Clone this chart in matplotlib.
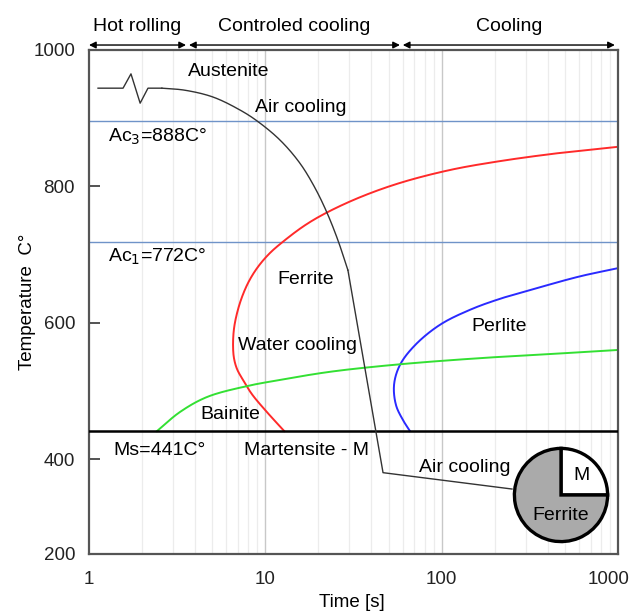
import matplotlib
matplotlib.use("Agg")
import matplotlib.pyplot as plt
import matplotlib.transforms as mtransforms
import numpy as np

plt.rcParams['font.family'] = ['Liberation Sans', 'DejaVu Sans']

# ---- data (schematic CCT diagram) ----
ac3 = 896          # drawn position of Ac3 line
ac1 = 719          # drawn position of Ac1 line
ms = 441

red_t = [1000, 469, 214, 111.5, 58.0, 34.4, 22.1, 16.8, 12.9, 10.6, 9.09, 8.08,
         7.38, 6.91, 6.64, 6.56, 6.64, 6.91, 7.47, 8.40, 10.2, 12.8]
red_T = [858, 849, 837, 824, 805, 784, 761, 743, 721, 702, 682, 661,
         638, 614, 591, 567, 548, 532, 516, 495, 469, 441]

blue_t = [1000, 609, 361, 214, 145, 97.9, 70.6, 58.0, 53.7, 55.1, 60.4, 66.1]
blue_T = [680, 668, 652, 635, 619, 597, 567, 538, 509, 479, 457, 441]

green_t = [2.43, 3.28, 4.67, 7.87, 12.1, 23.3, 58, 165, 412, 1000]
green_T = [441, 469, 491, 507, 516, 528, 539, 548, 554, 560]

# cooling path: start + notch, smooth cooling curve, then straight segments
notch_t = [1.125, 1.56, 1.73, 1.95, 2.16, 2.59]
notch_T = [944, 944, 965, 922, 944, 944]
cool_t = [2.59, 3.50, 5.05, 7.18, 8.97, 12.1, 15.7, 19.1, 22.4, 25.8, 29.4]
cool_T = [944, 941, 931, 912, 896, 868, 834, 798, 761, 721, 677]
tail_t = [29.4, 46.5, 250.5]
tail_T = [677, 380, 356]

pie_vals = [25, 75]
pie_labels = ['M', 'Ferrite']

xticks = [1, 10, 100, 1000]
xtick_labels = ['1', '10', '100', '1000']
ybottom = 260.7
yticks = [1000, 800, 600, 400, ybottom]
ytick_labels = ['1000', '800', '600', '400', '200']

phases = [("Hot rolling", 1, 3.55), ("Controled cooling", 3.69, 58), ("Cooling", 60.2, 960)]

PXDEC = 176.33   # pixels per decade
PXDEG = 0.6817   # pixels per degree


def smooth(ts, Ts, n=25):
    """Centripetal Catmull-Rom through the read points, in display-like space."""
    P = np.column_stack([np.log10(ts) * PXDEC, np.asarray(Ts, float) * PXDEG])
    P = np.vstack([2 * P[0] - P[1], P, 2 * P[-1] - P[-2]])
    out = []
    for i in range(1, len(P) - 2):
        p0, p1, p2, p3 = P[i - 1], P[i], P[i + 1], P[i + 2]
        t0 = 0.0
        t1 = t0 + max(np.linalg.norm(p1 - p0), 1e-6) ** 0.5
        t2 = t1 + max(np.linalg.norm(p2 - p1), 1e-6) ** 0.5
        t3 = t2 + max(np.linalg.norm(p3 - p2), 1e-6) ** 0.5
        t = np.linspace(t1, t2, n)[:, None]
        a1 = (t1 - t) / (t1 - t0) * p0 + (t - t0) / (t1 - t0) * p1
        a2 = (t2 - t) / (t2 - t1) * p1 + (t - t1) / (t2 - t1) * p2
        a3 = (t3 - t) / (t3 - t2) * p2 + (t - t2) / (t3 - t2) * p3
        b1 = (t2 - t) / (t2 - t0) * a1 + (t - t0) / (t2 - t0) * a2
        b2 = (t3 - t) / (t3 - t1) * a2 + (t - t1) / (t3 - t1) * a3
        c = (t2 - t) / (t2 - t1) * b1 + (t - t1) / (t2 - t1) * b2
        out.append(c if i == 1 else c[1:])
    C = np.vstack(out)
    return 10 ** (C[:, 0] / PXDEC), C[:, 1] / PXDEG


# ---- figure ----
fig = plt.figure(figsize=(6.35, 6.14), dpi=100)
ax = fig.add_axes([89/635, 60/614, 529/635, 504/614])
ax.set_xscale('log')
ax.set_xlim(1, 1000)
ax.set_ylim(ybottom, 1000)

# grid
for dec in [1, 10, 100]:
    for m in range(2, 10):
        ax.axvline(dec*m, color='#ececec', lw=0.9, zorder=0)
for v in [10, 100]:
    ax.axvline(v, color='#c8c8c8', lw=1.0, zorder=0)

ax.axhline(ac3, color='#6f93c8', lw=1.0, zorder=1)
ax.axhline(ac1, color='#6f93c8', lw=1.0, zorder=1)
ax.axhline(ms, color='black', lw=1.8, zorder=3)

ax.plot(*smooth(red_t, red_T), color='#ff2a2a', lw=1.4, zorder=2)
ax.plot(*smooth(blue_t, blue_T), color='#2a2aff', lw=1.4, zorder=2)
ax.plot(*smooth(green_t, green_T), color='#33e033', lw=1.4, zorder=2)
ax.plot(notch_t, notch_T, color='#333333', lw=1.0, zorder=4)
ax.plot(*smooth(cool_t, cool_T), color='#333333', lw=1.0, zorder=4)
ax.plot(tail_t, tail_T, color='#333333', lw=1.0, zorder=4)

fs = 14
ax.text(6.22, 968, 'Austenite', fontsize=fs, ha='center', va='center')
ax.text(15.9, 915, 'Air cooling', fontsize=fs, ha='center', va='center')
ax.text(1.28, 872, 'Ac$_3$=888C°', fontsize=fs, ha='left', va='center')
ax.text(1.28, 696, 'Ac$_1$=772C°', fontsize=fs, ha='left', va='center')
ax.text(17.0, 663, 'Ferrite', fontsize=fs, ha='center', va='center')
ax.text(211, 595, 'Perlite', fontsize=fs, ha='center', va='center')
ax.text(15.3, 567, 'Water cooling', fontsize=fs, ha='center', va='center')
ax.text(6.3, 466, 'Bainite', fontsize=fs, ha='center', va='center')
ax.text(1.37, 412, 'Ms=441C°', fontsize=fs, ha='left', va='center')
ax.text(17.2, 412, 'Martensite - M', fontsize=fs, ha='center', va='center')
ax.text(135.6, 387, 'Air cooling', fontsize=fs, ha='center', va='center')

# phase arrows on top
for name, a, b in phases:
    ax.annotate('', xy=(b, 1007.3), xytext=(a, 1007.3), annotation_clip=False,
                arrowprops=dict(arrowstyle='<|-|>', color='black', lw=1.0,
                                shrinkA=0, shrinkB=0, mutation_scale=10))
    ax.text(np.sqrt(a*b), 1035, name, fontsize=fs, ha='center', va='center')

ax.set_xticks(xticks)
ax.set_xticklabels(xtick_labels)
ax.xaxis.set_minor_locator(matplotlib.ticker.NullLocator())
ax.set_yticks(yticks)
ax.set_yticklabels(ytick_labels)
ax.tick_params(axis='y', direction='in', length=8, width=1.3, color='#444444',
               labelsize=13.5, pad=10, labelcolor='#222222')
ax.tick_params(axis='x', length=0, labelsize=13.5, pad=12, labelcolor='#222222')
for s in ax.spines.values():
    s.set_color('#555555')
    s.set_linewidth(1.6)

# keep the last x label inside the figure
last = ax.get_xticklabels()[-1]
last.set_transform(last.get_transform() +
                   mtransforms.ScaledTranslation(-9/100, 0, fig.dpi_scale_trans))

ax.set_xlabel('Time [s]', fontsize=13.5)
ax.xaxis.set_label_coords((352-89)/529, -(594-554)/504)
ax.set_ylabel('Temperature  C°', fontsize=13.5)
ax.yaxis.set_label_coords(-(89-36)/529, (554-302)/504)

# pie inset
cx, cy, r = 561, 495, 48
pax = fig.add_axes([(cx-r)/635, (614-cy-r)/614, 2*r/635, 2*r/614])
pax.pie(pie_vals, colors=['white', '#aaaaaa'], startangle=0, counterclock=True,
        radius=1, wedgeprops=dict(edgecolor='black', linewidth=2.4))
pax.set_xlim(-1.03, 1.03)
pax.set_ylim(-1.03, 1.03)
pax.set_aspect('equal')
pax.axis('off')
pax.text(0.45, 0.42, pie_labels[0], fontsize=fs, ha='center', va='center')
pax.text(0.0, -0.45, pie_labels[1], fontsize=fs, ha='center', va='center')

fig.savefig('out.png', dpi=100)
